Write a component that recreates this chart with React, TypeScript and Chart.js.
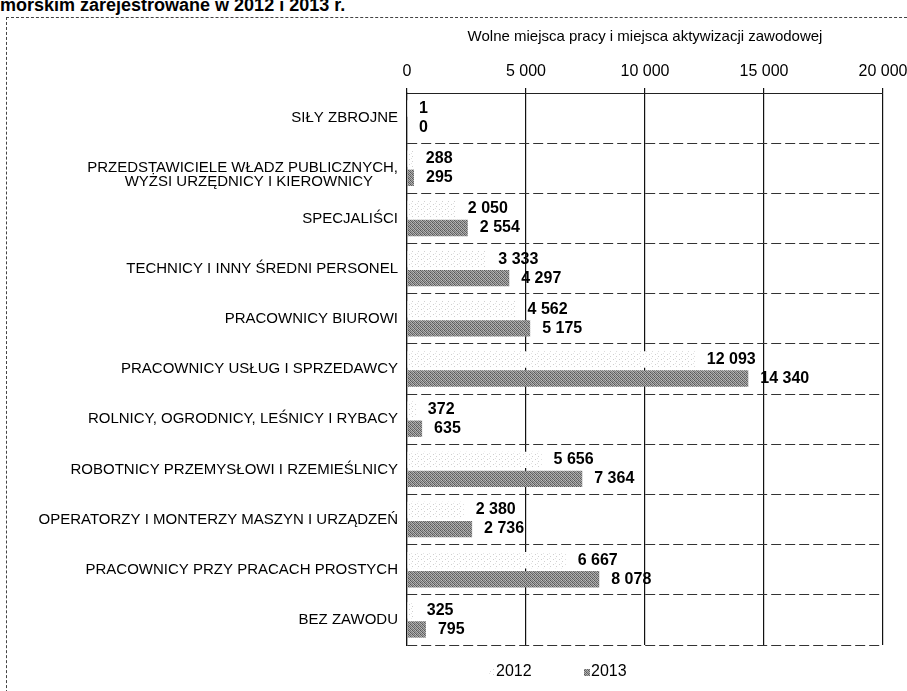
import { useEffect, useRef } from "react";
import { Chart, registerables } from "chart.js";

Chart.register(...registerables);

const heading = "morskim zarejestrowane w 2012 i 2013 r.";
const axisTitle = "Wolne miejsca pracy i miejsca aktywizacji zawodowej";

const categories: (string | string[])[] = [
  "SIŁY ZBROJNE",
  ["", "PRZEDSTAWICIELE WŁADZ PUBLICZNYCH,", "WYŻSI URZĘDNICY I KIEROWNICY      "],
  "SPECJALIŚCI",
  "TECHNICY I INNY ŚREDNI PERSONEL",
  "PRACOWNICY BIUROWI",
  "PRACOWNICY USŁUG I SPRZEDAWCY",
  "ROLNICY, OGRODNICY, LEŚNICY I RYBACY",
  "ROBOTNICY PRZEMYSŁOWI I RZEMIEŚLNICY",
  "OPERATORZY I MONTERZY MASZYN I URZĄDZEŃ",
  "PRACOWNICY PRZY PRACACH PROSTYCH",
  "BEZ ZAWODU",
];

const seriesNames = ["2012", "2013"];
const values2012 = [1, 288, 2050, 3333, 4562, 12093, 372, 5656, 2380, 6667, 325];
const values2013 = [0, 295, 2554, 4297, 5175, 14340, 635, 7364, 2736, 8078, 795];
const tickValues = [0, 5000, 10000, 15000, 20000];

const FONT = '"Liberation Sans", Arial, sans-serif';

function fmt(v: number): string {
  return String(v).replace(/\B(?=(\d{3})+(?!\d))/g, " ");
}

function makePattern(kind: "light" | "dark"): CanvasPattern | string {
  const c = document.createElement("canvas");
  const ctx = c.getContext("2d");
  if (!ctx) return kind === "dark" ? "#888888" : "#f4f4f4";
  if (kind === "dark") {
    c.width = 4;
    c.height = 4;
    const g = [
      [85, 170, 110, 185],
      [175, 100, 160, 125],
      [120, 190, 85, 165],
      [160, 110, 180, 100],
    ];
    for (let y = 0; y < 4; y++)
      for (let x = 0; x < 4; x++) {
        const v = g[y][x];
        ctx.fillStyle = `rgb(${v},${v},${v})`;
        ctx.fillRect(x, y, 1, 1);
      }
  } else {
    c.width = 6;
    c.height = 5;
    ctx.fillStyle = "#ffffff";
    ctx.fillRect(0, 0, 6, 5);
    ctx.fillStyle = "#d0d0d0";
    ctx.fillRect(1, 1, 1, 1);
    ctx.fillRect(4, 3, 1, 1);
    ctx.fillStyle = "#e4e4e4";
    ctx.fillRect(3, 0, 1, 1);
  }
  const p = ctx.createPattern(c, "repeat");
  return p || (kind === "dark" ? "#888888" : "#f4f4f4");
}

const valueLabels = {
  id: "valueLabels",
  afterDatasetsDraw(chart: any) {
    const ctx = chart.ctx;
    ctx.save();
    ctx.font = `bold 16px ${FONT}`;
    ctx.fillStyle = "#000";
    ctx.textAlign = "left";
    ctx.textBaseline = "middle";
    chart.data.datasets.forEach((ds: any, i: number) => {
      const meta = chart.getDatasetMeta(i);
      meta.data.forEach((bar: any, j: number) => {
        ctx.fillText(fmt(ds.data[j]), bar.x + 12, bar.y);
      });
    });
    ctx.restore();
  },
};

const customLegend = {
  id: "customLegend",
  afterDraw(chart: any) {
    const ctx = chart.ctx;
    const ca = chart.chartArea;
    const y = ca.bottom + 27;
    const offsets = [82, 177];
    ctx.save();
    ctx.font = `16px ${FONT}`;
    ctx.textBaseline = "middle";
    ctx.textAlign = "left";
    chart.data.datasets.forEach((ds: any, i: number) => {
      const x = ca.left + offsets[i];
      ctx.fillStyle = ds.backgroundColor;
      ctx.fillRect(x, y - 3, 6, 7);
      ctx.fillStyle = "#000";
      ctx.fillText(ds.label, x + 7, y);
    });
    ctx.restore();
  },
};

export default function App() {
  const ref = useRef<HTMLCanvasElement | null>(null);

  useEffect(() => {
    if (!ref.current) return;
    const chart = new Chart(ref.current, {
      type: "bar",
      data: {
        labels: categories,
        datasets: [
          {
            label: seriesNames[0],
            data: values2012,
            backgroundColor: makePattern("light") as any,
            borderWidth: 0,
            categoryPercentage: 0.76,
            barPercentage: 0.86,
          },
          {
            label: seriesNames[1],
            data: values2013,
            backgroundColor: makePattern("dark") as any,
            borderWidth: 0,
            categoryPercentage: 0.76,
            barPercentage: 0.86,
          },
        ],
      },
      options: {
        indexAxis: "y",
        responsive: false,
        animation: false,
        devicePixelRatio: 1,
        layout: { padding: { top: 0, right: 47, bottom: 46, left: 0 } },
        plugins: {
          legend: { display: false },
          tooltip: { enabled: false },
        },
        scales: {
          x: {
            position: "top",
            min: 0,
            max: 20000,
            afterBuildTicks: (scale: any) => {
              scale.ticks = tickValues.map((v) => ({ value: v }));
            },
            afterFit: (scale: any) => {
              scale.height = 75;
            },
            title: {
              display: true,
              text: axisTitle,
              color: "#000",
              font: { family: FONT, size: 15 },
              padding: { top: 10, bottom: 0 },
            },
            ticks: {
              color: "#000",
              font: { family: FONT, size: 16 },
              padding: 7,
              maxRotation: 0,
              callback: (v: any) => fmt(Number(v)),
            },
            grid: {
              color: "#111",
              lineWidth: 1.2,
              drawTicks: true,
              tickLength: 5,
            },
            border: { display: true, color: "#222", width: 1 },
          },
          y: {
            afterFit: (scale: any) => {
              scale.width = 407;
            },
            ticks: {
              color: "#000",
              font: { family: FONT, size: 15, lineHeight: 0.9 },
              padding: 9,
              autoSkip: false,
            },
            grid: {
              color: "#333",
              lineWidth: 1,
              drawTicks: false,
            },
            border: { display: true, color: "#111", width: 1.2, dash: [10, 4] },
          },
        },
      },
      plugins: [valueLabels, customLegend],
    });
    return () => chart.destroy();
  }, []);

  return (
    <div
      style={{
        position: "absolute",
        left: 0,
        top: 0,
        width: 907,
        height: 691,
        overflow: "hidden",
        background: "#fff",
      }}
    >
      <div
        style={{
          position: "absolute",
          left: 0,
          top: -4,
          font: `bold 18px ${FONT}`,
          lineHeight: "18px",
          color: "#000",
          whiteSpace: "nowrap",
        }}
      >
        {heading}
      </div>
      <div
        style={{
          position: "absolute",
          left: 6,
          top: 17,
          width: 920,
          height: 700,
          borderLeft: "1px dashed #444",
          borderTop: "1px dashed #444",
        }}
      />
      <canvas
        ref={ref}
        width={930}
        height={673}
        style={{ position: "absolute", left: 0, top: 18, width: 930, height: 673 }}
      />
    </div>
  );
}
